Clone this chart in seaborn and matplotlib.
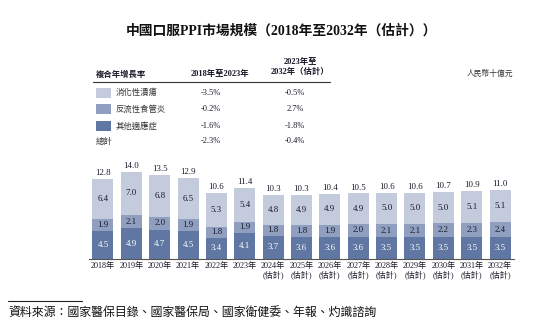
import matplotlib
matplotlib.use("Agg")
import matplotlib.pyplot as plt
import seaborn as sns
import pandas as pd

years = ["2018年", "2019年", "2020年", "2021年", "2022年", "2023年", "2024年", "2025年",
         "2026年", "2027年", "2028年", "2029年", "2030年", "2031年", "2032年"]
forecast = [False] * 6 + [True] * 9
other = [4.5, 4.9, 4.7, 4.5, 3.4, 4.1, 3.7, 3.6, 3.6, 3.6, 3.5, 3.5, 3.5, 3.5, 3.5]
reflux = [1.9, 2.1, 2.0, 1.9, 1.8, 1.9, 1.8, 1.8, 1.9, 2.0, 2.1, 2.1, 2.2, 2.3, 2.4]
ulcer = [6.4, 7.0, 6.8, 6.5, 5.3, 5.4, 4.8, 4.9, 4.9, 4.9, 5.0, 5.0, 5.0, 5.1, 5.1]
totals = [12.8, 14.0, 13.5, 12.9, 10.6, 11.4, 10.3, 10.3, 10.4, 10.5, 10.6, 10.6, 10.7, 10.9, 11.0]

series_names = ["消化性潰瘍", "反流性食管炎", "其他適應症"]
cagr_1823 = ["-3.5%", "-0.2%", "-1.6%", "-2.3%"]
cagr_2332 = ["-0.5%", "2.7%", "-1.8%", "-0.4%"]

title = "中國口服PPI市場規模（2018年至2032年（估計））"
unit = "人民幣十億元"
source = "資料來源：國家醫保目錄、國家醫保局、國家衛健委、年報、灼識諮詢"

c_light = "#c3cbdd"
c_mid = "#909fbf"
c_dark = "#5f77a2"
txt = "#1a1a2a"

sns.set_theme(style="white")
MIX = ["Liberation Serif", "Noto Sans CJK TC", "DejaVu Sans"]
CJK = ["Noto Sans CJK TC", "DejaVu Sans"]
plt.rcParams["font.family"] = MIX

W, H = 550, 321
fig = plt.figure(figsize=(5.5, 3.21), dpi=100)

def fx(px):
    return px / W

def fy(py):
    return 1 - py / H

# bar axes
ppu = 6.25
base_y = 259
left_px = 88.8
width_px = 28.36 * 15
top_px = 160
ax = fig.add_axes([fx(left_px), fy(base_y), width_px / W, (base_y - top_px) / H])

df = pd.DataFrame({
    "year": years,
    "other": other,
    "low2": [a + b for a, b in zip(other, reflux)],
    "total": totals,
})
bw = 0.74
sns.barplot(data=df, x="year", y="total", order=years, color=c_light, width=bw,
            saturation=1, ax=ax, linewidth=0)
sns.barplot(data=df, x="year", y="low2", order=years, color=c_mid, width=bw,
            saturation=1, ax=ax, linewidth=0)
sns.barplot(data=df, x="year", y="other", order=years, color=c_dark, width=bw,
            saturation=1, ax=ax, linewidth=0)

ax.set_xlim(-0.5, 14.5)
ax.set_ylim(0, (base_y - top_px) / ppu)
ax.set_yticks([])
ax.set_xlabel("")
ax.set_ylabel("")
for s in ["top", "right", "left"]:
    ax.spines[s].set_visible(False)
ax.spines["bottom"].set_color("#555555")
ax.spines["bottom"].set_linewidth(0.8)

labels = [y + ("\n(估計)" if f else "") for y, f in zip(years, forecast)]
ax.set_xticks(range(len(years)))
ax.set_xticklabels(labels, fontsize=5.9, color=txt, linespacing=1.1)
ax.tick_params(axis="x", length=0, pad=2)

fs = 6.4
for i in range(len(years)):
    o, r, u = other[i], reflux[i], ulcer[i]
    ax.text(i, o / 2, f"{o:.1f}", ha="center", va="center", fontsize=fs, color="white")
    ax.text(i, o + r / 2, f"{r:.1f}", ha="center", va="center", fontsize=fs, color=txt)
    lt = o + r
    ax.text(i, (lt + totals[i]) / 2, f"{u:.1f}", ha="center", va="center", fontsize=fs, color=txt)
    ax.text(i, totals[i] + 0.3, f"{totals[i]:.1f}", ha="center", va="bottom", fontsize=fs, color=txt)

# title
fig.text(fx(281), fy(31), title, ha="center", va="center", fontsize=9.9,
         fontweight="bold", color="#111111", family=MIX)

# table
tfs = 6.0
fig.text(fx(96), fy(74), "複合年增長率", ha="left", va="center", fontsize=tfs,
         fontweight="bold", color=txt, family=CJK)
fig.text(fx(220), fy(74), "2018年至2023年", ha="center", va="center", fontsize=tfs,
         fontweight="bold", color=txt, family=MIX)
fig.text(fx(300), fy(62), "2023年至", ha="center", va="center", fontsize=tfs,
         fontweight="bold", color=txt, family=MIX)
fig.text(fx(300), fy(72), "2032年（估計）", ha="center", va="center", fontsize=tfs,
         fontweight="bold", color=txt, family=MIX)
fig.add_artist(plt.Line2D([fx(93), fx(330)], [fy(81.5), fy(81.5)], color="#333333", lw=0.8))

row_y = [92.7, 109.3, 126, 141]
sw_colors = [c_light, c_mid, c_dark]
for k in range(3):
    fig.add_artist(plt.Rectangle((fx(96), fy(row_y[k] + 5)), 15 / W, 10 / H,
                                 facecolor=sw_colors[k], edgecolor="none"))
    fig.text(fx(116), fy(row_y[k]), series_names[k], ha="left", va="center",
             fontsize=tfs, color="#333333", family=CJK)
fig.text(fx(96), fy(row_y[3]), "總計", ha="left", va="center", fontsize=tfs,
         color="#333333", family=CJK)
for k in range(4):
    fig.text(fx(211), fy(row_y[k]), cagr_1823[k], ha="center", va="center",
             fontsize=tfs, color=txt, family=MIX)
    fig.text(fx(295), fy(row_y[k]), cagr_2332[k], ha="center", va="center",
             fontsize=tfs, color=txt, family=MIX)

fig.text(fx(513), fy(74), unit, ha="right", va="center", fontsize=5.6,
         color="#333333", family=CJK, style="italic")

# source
fig.add_artist(plt.Line2D([fx(8), fx(82)], [fy(300.5), fy(300.5)], color="#222222", lw=0.8))
fig.text(fx(8), fy(312), source, ha="left", va="center", fontsize=8.6,
         color="#111111", family=CJK, style="italic")

fig.savefig("out.png", dpi=100)
